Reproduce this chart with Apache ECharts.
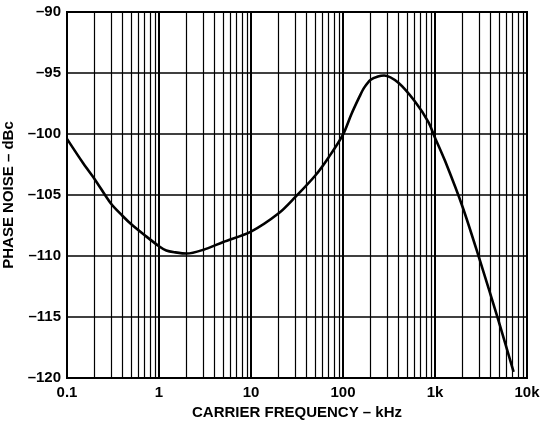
<!DOCTYPE html>
<html>
<head>
<meta charset="utf-8">
<script src="https://cdn.jsdelivr.net/npm/echarts@6/dist/echarts.min.js"></script>
<style>html,body{margin:0;padding:0;background:#fff;}#c{width:540px;height:423px;}</style>
</head>
<body>
<div id="c"></div>
<script>
// Carrier frequency offset (kHz) and phase noise (dBc)
const freqKHz = [0.1, 0.15, 0.2, 0.3, 0.4, 0.5, 0.7, 1, 1.2, 1.5, 2, 3, 5, 10, 20, 30, 50, 70, 100, 123, 152, 170, 200, 240, 280, 400, 600, 845, 1000, 1285, 2000, 3000, 4900, 7150];
const phaseNoise = [-100.4, -102.4, -103.7, -105.7, -106.7, -107.4, -108.3, -109.2, -109.55, -109.7, -109.8, -109.5, -108.85, -108.0, -106.5, -105.2, -103.4, -101.9, -100.05, -98.4, -96.9, -96.2, -95.55, -95.28, -95.2, -95.8, -97.3, -99.0, -100.3, -102.2, -106.0, -110.1, -115.3, -119.5];
const xTickLabels = ['0.1', '1', '10', '100', '1k', '10k'];
const minorGridValues = [0.2,0.3,0.4,0.5,0.6,0.7,0.8,0.9, 2,3,4,5,6,7,8,9, 20,30,40,50,60,70,80,90, 200,300,400,500,600,700,800,900, 2000,3000,4000,5000,6000,7000,8000,9000];

const font = '"Liberation Sans", Arial, Helvetica, sans-serif';
const chart = echarts.init(document.getElementById('c'), null, {renderer: 'canvas'});
chart.setOption({
  animation: false,
  backgroundColor: '#fff',
  grid: {left: 67, right: 13, top: 12, bottom: 45, show: true, borderColor: '#000', borderWidth: 2, backgroundColor: 'transparent', containLabel: false, outerBoundsMode: 'none'},
  xAxis: {
    type: 'log', logBase: 10, min: 0.1, max: 10000,
    name: 'CARRIER FREQUENCY – kHz', nameLocation: 'middle', nameGap: 15,
    nameTextStyle: {fontFamily: font, fontWeight: 'bold', fontSize: 15, color: '#000'},
    axisLine: {show: true, lineStyle: {color: '#000', width: 2}},
    axisTick: {show: false},
    axisLabel: {
      margin: 7, fontFamily: font, fontWeight: 'bold', fontSize: 15, color: '#000',
      formatter: function (v) { const i = Math.round(Math.log10(v)) + 1; return xTickLabels[i] !== undefined ? xTickLabels[i] : ''; }
    },
    splitLine: {show: true, lineStyle: {color: '#000', width: 2}},
    minorTick: {show: false}, minorSplitLine: {show: false}
  },
  yAxis: {
    type: 'value', min: -120, max: -90, interval: 5,
    name: 'PHASE NOISE – dBc', nameLocation: 'middle', nameGap: 45,
    nameTextStyle: {fontFamily: font, fontWeight: 'bold', fontSize: 15, color: '#000'},
    axisLine: {show: true, lineStyle: {color: '#000', width: 2}},
    axisTick: {show: false},
    axisLabel: {
      margin: 6, fontFamily: font, fontWeight: 'bold', fontSize: 15, color: '#000',
      formatter: function (v) { return v < 0 ? '–' + Math.abs(v) : String(v); }
    },
    splitLine: {show: true, lineStyle: {color: '#000', width: 1.5}}
  },
  series: [
    {
      type: 'line', data: [], silent: true,
      markLine: {
        silent: true, symbol: ['none', 'none'], label: {show: false},
        lineStyle: {color: '#000', width: 1.2, type: 'solid'},
        emphasis: {disabled: true},
        data: minorGridValues.map(v => ({xAxis: v}))
      }
    },
    {
      type: 'line', smooth: 0.3, showSymbol: false, symbol: 'none',
      lineStyle: {color: '#000', width: 2.6},
      data: freqKHz.map((f, i) => [f, phaseNoise[i]]),
      z: 5
    }
  ]
});
</script>
</body>
</html>
